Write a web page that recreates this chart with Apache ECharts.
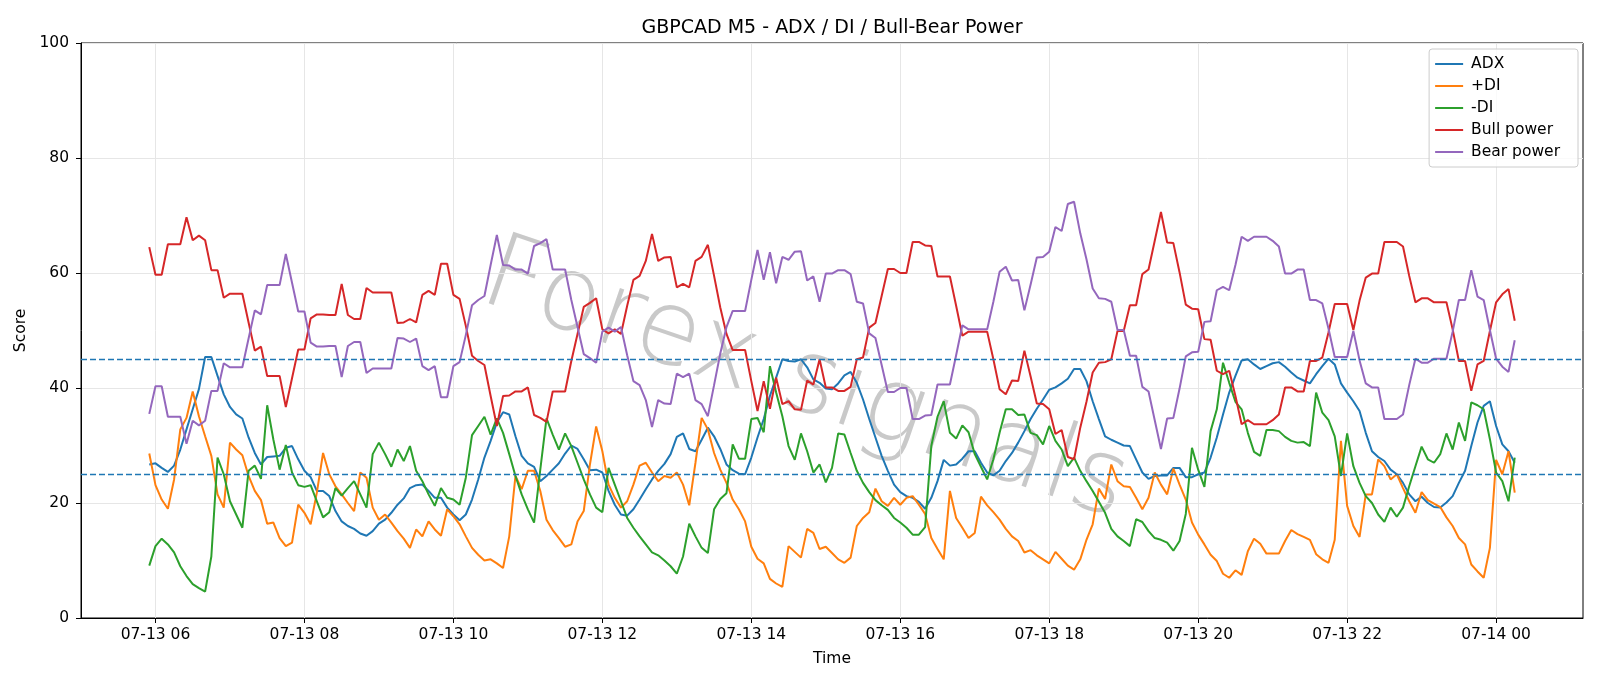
<!DOCTYPE html>
<html>
<head>
<meta charset="utf-8">
<title>GBPCAD M5 - ADX / DI / Bull-Bear Power</title>
<script src="https://cdn.jsdelivr.net/npm/echarts@6/dist/echarts.min.js"></script>
<style>
  html, body { margin: 0; padding: 0; background: #fff; }
  #chart { width: 1600px; height: 686px; }
</style>
</head>
<body>
<div id="chart"></div>
<script>
(function () {
  'use strict';

  // M5 bars, first bar 07-13 05:55 (UTC), one value every 5 minutes
  const firstBar = Date.UTC(2025, 6, 13, 5, 55);
  const barMs = 5 * 60 * 1000;

  const adx = [
    26.7, 26.9, 26.1, 25.4, 26.5, 29.3, 32.8, 36.3, 39.8, 45.4, 45.4, 42.1, 38.9, 36.7, 35.4, 34.7, 31.4, 28.7, 26.7, 28.0,
    28.1, 28.2, 29.6, 29.9, 27.6, 25.6, 24.5, 22.1, 22.1, 21.2, 18.6, 16.8, 16.0, 15.5, 14.7, 14.3, 15.1, 16.4, 17.1, 18.3,
    19.7, 20.8, 22.6, 23.1, 23.2, 22.1, 20.9, 20.9, 19.2, 18.0, 17.0, 18.0, 20.6, 24.1, 27.9, 30.8, 34.0, 35.8, 35.4, 31.6,
    28.2, 26.9, 26.3, 23.8, 24.7, 25.8, 26.9, 28.6, 30.0, 29.4, 27.6, 25.7, 25.8, 25.3, 22.1, 19.7, 18.0, 17.8, 18.9, 20.6,
    22.4, 24.1, 25.6, 26.8, 28.5, 31.5, 32.1, 29.4, 29.0, 31.0, 33.1, 31.6, 29.4, 26.7, 25.7, 25.1, 25.0, 27.9, 31.4, 34.6,
    38.6, 41.8, 45.0, 44.7, 44.6, 45.0, 43.6, 41.5, 40.9, 39.9, 39.8, 40.8, 42.2, 42.8, 40.9, 38.0, 34.6, 31.4, 28.2, 25.6,
    23.2, 21.9, 21.2, 20.9, 20.2, 19.0, 20.9, 23.8, 27.5, 26.5, 26.7, 27.7, 29.0, 29.0, 27.0, 25.3, 24.8, 25.6, 27.3, 28.7,
    30.5, 32.5, 34.6, 36.4, 38.0, 39.7, 40.1, 40.8, 41.6, 43.3, 43.3, 41.2, 37.7, 34.6, 31.6, 31.0, 30.5, 30.0, 29.9, 27.6,
    25.3, 24.2, 24.7, 24.8, 24.8, 26.1, 26.1, 24.5, 24.5, 25.0, 25.3, 27.9, 31.4, 35.4, 39.2, 42.1, 44.8, 45.0, 44.1, 43.3,
    43.8, 44.3, 44.5, 43.7, 42.7, 41.8, 41.3, 40.8, 42.4, 43.8, 45.1, 44.1, 40.8, 39.2, 37.7, 36.0, 32.2, 29.0, 28.0, 27.3,
    25.8, 25.0, 23.5, 21.5, 20.3, 21.1, 20.0, 19.3, 19.2, 20.1, 21.2, 23.5, 25.6, 29.9, 34.0, 36.9, 37.7, 33.4, 30.2, 29.0,
    27.0
  ];

  const plusDi = [
    28.6, 23.1, 20.6, 19.0, 24.1, 32.8, 34.8, 39.4, 35.1, 31.6, 28.2, 21.5, 19.2, 30.5, 29.3, 28.3, 24.7, 22.1, 20.5, 16.4,
    16.6, 13.9, 12.5, 13.1, 19.7, 18.3, 16.3, 21.8, 28.7, 25.0, 22.9, 21.5, 20.0, 18.6, 25.3, 24.4, 19.2, 17.1, 18.0, 16.6,
    15.1, 13.8, 12.2, 15.4, 14.2, 16.8, 15.4, 14.3, 18.9, 17.7, 16.3, 14.2, 12.2, 11.0, 10.0, 10.2, 9.5, 8.7, 14.2, 24.7,
    22.4, 25.6, 25.6, 22.1, 17.1, 15.3, 13.9, 12.4, 12.8, 16.8, 18.6, 26.7, 33.3, 29.0, 23.2, 20.9, 19.2, 20.3, 23.2, 26.5,
    27.0, 25.3, 23.8, 24.7, 24.4, 25.3, 23.2, 19.6, 27.0, 34.8, 32.8, 28.7, 25.8, 23.5, 20.6, 18.9, 16.8, 12.4, 10.3, 9.5,
    6.8, 6.0, 5.4, 12.5, 11.5, 10.5, 15.5, 14.8, 12.0, 12.4, 11.3, 10.2, 9.6, 10.5, 16.0, 17.4, 18.4, 22.5, 20.3, 19.5,
    20.9, 19.7, 20.9, 21.2, 19.7, 18.1, 13.9, 12.0, 10.2, 22.1, 17.4, 15.7, 13.9, 14.8, 21.1, 19.6, 18.4, 17.1, 15.5, 14.2,
    13.4, 11.4, 11.8, 10.9, 10.2, 9.5, 11.5, 10.3, 9.1, 8.4, 10.2, 13.6, 16.3, 22.5, 20.7, 26.7, 23.8, 22.9, 22.8, 20.9,
    18.9, 20.9, 25.3, 23.2, 21.5, 26.0, 23.2, 20.6, 16.6, 14.5, 12.8, 11.0, 9.9, 7.7, 7.0, 8.3, 7.5, 11.6, 13.8, 12.9,
    11.2, 11.2, 11.2, 13.4, 15.3, 14.6, 14.1, 13.6, 11.1, 10.2, 9.6, 13.6, 30.8, 19.5, 16.0, 14.1, 21.5, 21.5, 27.6, 26.4,
    24.1, 25.0, 22.6, 20.3, 18.3, 21.9, 20.5, 19.9, 19.3, 17.5, 16.0, 13.9, 12.8, 9.3, 8.1, 7.0, 12.2, 27.5, 25.0, 29.0,
    21.8
  ];

  const minusDi = [
    9.1, 12.5, 13.8, 12.8, 11.4, 9.0, 7.3, 5.9, 5.2, 4.6, 10.7, 27.9, 25.0, 20.3, 18.0, 15.7, 25.6, 26.5, 24.2, 37.0,
    31.0, 25.8, 30.1, 25.3, 23.1, 22.8, 23.1, 20.3, 17.5, 18.4, 22.6, 21.3, 22.6, 23.8, 21.5, 19.2, 28.5, 30.5, 28.5, 26.3,
    29.3, 27.3, 29.9, 25.6, 23.8, 21.5, 19.5, 22.6, 20.9, 20.6, 19.7, 24.4, 31.8, 33.4, 35.0, 31.9, 34.7, 32.2, 28.5, 24.7,
    21.5, 18.9, 16.6, 25.8, 34.7, 31.9, 29.3, 32.1, 29.9, 27.0, 24.1, 21.5, 19.2, 18.4, 26.1, 23.2, 20.3, 17.4, 15.7, 14.2,
    12.8, 11.4, 10.9, 10.0, 9.0, 7.7, 10.7, 16.4, 14.2, 12.2, 11.3, 18.9, 20.7, 21.7, 30.2, 27.7, 27.7, 34.6, 34.8, 32.3,
    43.8, 39.2, 35.1, 29.9, 27.5, 32.1, 29.0, 25.3, 26.7, 23.6, 26.1, 32.1, 31.9, 28.7, 25.6, 23.5, 21.9, 20.5, 19.6, 18.8,
    17.4, 16.6, 15.7, 14.5, 14.5, 15.8, 29.9, 35.0, 37.7, 32.2, 31.2, 33.5, 32.3, 28.5, 26.3, 24.1, 27.6, 32.2, 36.3, 36.3,
    35.3, 35.4, 32.2, 31.8, 30.2, 33.4, 30.8, 29.3, 26.4, 27.9, 25.6, 23.8, 22.1, 20.2, 18.3, 15.5, 14.2, 13.4, 12.5, 17.2,
    16.7, 15.1, 13.9, 13.6, 13.1, 11.7, 13.4, 18.1, 29.6, 25.8, 22.8, 32.5, 36.3, 44.4, 40.9, 37.6, 36.3, 32.2, 28.9, 28.2,
    32.7, 32.7, 32.5, 31.5, 30.8, 30.5, 30.6, 29.9, 39.2, 35.7, 34.4, 31.6, 24.7, 32.1, 26.4, 23.5, 21.2, 20.0, 18.0, 16.7,
    19.2, 17.6, 19.2, 22.9, 26.4, 29.8, 27.6, 27.0, 28.5, 32.1, 29.3, 34.0, 30.8, 37.5, 37.0, 36.3, 31.1, 25.3, 23.8, 20.3,
    27.9
  ];

  const bullPower = [
    64.5, 59.7, 59.7, 65.0, 65.0, 65.0, 69.7, 65.7, 66.5, 65.7, 60.5, 60.5, 55.7, 56.4, 56.4, 56.4, 51.4, 46.5, 47.2, 42.1,
    42.1, 42.1, 36.7, 41.7, 46.7, 46.7, 52.1, 52.8, 52.8, 52.7, 52.7, 58.1, 52.7, 52.0, 52.0, 57.4, 56.6, 56.6, 56.6, 56.6,
    51.3, 51.4, 52.0, 51.4, 56.2, 56.9, 56.2, 61.6, 61.6, 56.2, 55.5, 50.8, 45.6, 44.7, 44.0, 38.6, 33.4, 38.6, 38.7, 39.4,
    39.4, 40.1, 35.3, 34.8, 34.1, 39.4, 39.4, 39.4, 44.7, 49.4, 54.1, 54.8, 55.6, 50.2, 49.5, 50.2, 49.4, 54.3, 58.8, 59.5,
    62.1, 66.8, 62.1, 62.7, 62.8, 57.5, 58.1, 57.5, 62.1, 62.8, 64.9, 59.5, 54.0, 49.4, 46.6, 46.6, 46.6, 41.2, 36.0, 41.2,
    36.4, 41.8, 37.2, 37.7, 36.3, 36.2, 41.3, 40.6, 45.0, 40.1, 40.1, 39.5, 39.5, 40.2, 45.0, 45.3, 50.5, 51.3, 56.0, 60.7,
    60.7, 60.0, 60.0, 65.4, 65.4, 64.8, 64.7, 59.4, 59.4, 59.4, 54.3, 49.1, 49.8, 49.8, 49.8, 49.8, 45.0, 39.8, 38.9, 41.3,
    41.2, 46.5, 42.0, 37.3, 37.2, 36.3, 32.0, 32.7, 28.0, 27.6, 33.1, 37.6, 42.7, 44.4, 44.5, 45.0, 49.9, 49.9, 54.4, 54.4,
    59.8, 60.6, 65.6, 70.6, 65.3, 65.2, 60.1, 54.5, 53.8, 53.7, 48.5, 48.4, 43.0, 42.4, 43.0, 38.6, 33.7, 34.4, 33.7, 33.7,
    33.7, 34.4, 35.4, 40.1, 40.1, 39.4, 39.4, 44.7, 44.7, 45.3, 49.7, 54.6, 54.6, 54.6, 50.1, 55.2, 59.2, 59.9, 59.9, 65.4,
    65.4, 65.4, 64.6, 59.5, 54.9, 55.6, 55.6, 54.9, 54.9, 54.9, 50.2, 44.7, 44.7, 39.5, 44.1, 44.7, 49.9, 54.9, 56.3, 57.2,
    51.7
  ];

  const bearPower = [
    35.5, 40.3, 40.3, 35.0, 35.0, 35.0, 30.3, 34.3, 33.5, 34.3, 39.5, 39.5, 44.3, 43.6, 43.6, 43.6, 48.6, 53.5, 52.8, 57.9,
    57.9, 57.9, 63.3, 58.3, 53.3, 53.3, 47.9, 47.2, 47.2, 47.3, 47.3, 41.9, 47.3, 48.0, 48.0, 42.6, 43.4, 43.4, 43.4, 43.4,
    48.7, 48.6, 48.0, 48.6, 43.8, 43.1, 43.8, 38.4, 38.4, 43.8, 44.5, 49.2, 54.4, 55.3, 56.0, 61.4, 66.6, 61.4, 61.3, 60.6,
    60.6, 59.9, 64.7, 65.2, 65.9, 60.6, 60.6, 60.6, 55.3, 50.6, 45.9, 45.2, 44.4, 49.8, 50.5, 49.8, 50.6, 45.7, 41.2, 40.5,
    37.9, 33.2, 37.9, 37.3, 37.2, 42.5, 41.9, 42.5, 37.9, 37.2, 35.1, 40.5, 46.0, 50.6, 53.4, 53.4, 53.4, 58.8, 64.0, 58.8,
    63.6, 58.2, 62.8, 62.3, 63.7, 63.8, 58.7, 59.4, 55.0, 59.9, 59.9, 60.5, 60.5, 59.8, 55.0, 54.7, 49.5, 48.7, 44.0, 39.3,
    39.3, 40.0, 40.0, 34.6, 34.6, 35.2, 35.3, 40.6, 40.6, 40.6, 45.7, 50.9, 50.2, 50.2, 50.2, 50.2, 55.0, 60.2, 61.1, 58.7,
    58.8, 53.5, 58.0, 62.7, 62.8, 63.7, 68.0, 67.3, 72.0, 72.4, 66.9, 62.4, 57.3, 55.6, 55.5, 55.0, 50.1, 50.1, 45.6, 45.6,
    40.2, 39.4, 34.4, 29.4, 34.7, 34.8, 39.9, 45.5, 46.2, 46.3, 51.5, 51.6, 57.0, 57.6, 57.0, 61.4, 66.3, 65.6, 66.3, 66.3,
    66.3, 65.6, 64.6, 59.9, 59.9, 60.6, 60.6, 55.3, 55.3, 54.7, 50.3, 45.4, 45.4, 45.4, 49.9, 44.8, 40.8, 40.1, 40.1, 34.6,
    34.6, 34.6, 35.4, 40.5, 45.1, 44.4, 44.4, 45.1, 45.1, 45.1, 49.8, 55.3, 55.3, 60.5, 55.9, 55.3, 50.1, 45.1, 43.7, 42.8,
    48.3
  ];

  const thresholds = [25, 45];
  const tickLabels = ['07-13 06', '07-13 08', '07-13 10', '07-13 12', '07-13 14',
    '07-13 16', '07-13 18', '07-13 20', '07-13 22', '07-14 00'];
  const firstTick = Date.UTC(2025, 6, 13, 6, 0);
  const tickStep = 2 * 3600 * 1000;
  const tickTimes = tickLabels.map(function (_, i) { return firstTick + i * tickStep; });

  const xMin = Date.UTC(2025, 6, 13, 5, 0);
  const xMax = Date.UTC(2025, 6, 14, 1, 10);

  function pairs(values) {
    return values.map(function (v, i) { return [firstBar + i * barMs, v]; });
  }

  const font = 'DejaVu Sans';
  const black = '#000';
  const labelSize = 15.5;
  const gridLine = { show: true, lineStyle: { color: '#e6e6e6', width: 1 } };

  const chart = echarts.init(document.getElementById('chart'), null, { renderer: 'canvas' });

  const lineSeries = function (name, color, values, extra) {
    return Object.assign({
      name: name,
      type: 'line',
      data: pairs(values),
      showSymbol: false,
      symbol: 'none',
      lineStyle: { color: color, width: 2 },
      itemStyle: { color: color },
      animation: false
    }, extra || {});
  };

  chart.setOption({
    animation: false,
    backgroundColor: '#fff',
    textStyle: { fontFamily: font },
    title: {
      text: 'GBPCAD M5 - ADX / DI / Bull-Bear Power',
      left: 827,
      textAlign: 'center',
      top: 14,
      textStyle: { fontFamily: font, fontSize: 19, fontWeight: 'normal', color: black }
    },
    grid: { left: 81, right: 17, top: 43, bottom: 68, show: true, borderColor: black, borderWidth: 1 },
    legend: {
      orient: 'vertical',
      right: 22,
      top: 49,
      icon: 'rect',
      itemWidth: 28,
      itemHeight: 2,
      itemGap: 6,
      padding: [7, 18, 7, 6],
      backgroundColor: 'rgba(255,255,255,0.8)',
      borderColor: '#cccccc',
      borderWidth: 1,
      borderRadius: 3,
      textStyle: { fontFamily: font, fontSize: labelSize, color: black, lineHeight: 16, padding: [0, 0, 0, 3] },
      data: ['ADX', '+DI', '-DI', 'Bull power', 'Bear power']
    },
    xAxis: {
      type: 'value',
      min: xMin,
      max: xMax,
      name: 'Time',
      nameLocation: 'middle',
      nameGap: 33,
      nameTextStyle: { fontFamily: font, fontSize: labelSize, color: black },
      axisLine: { show: true, lineStyle: { color: black, width: 1 } },
      axisTick: { show: true, customValues: tickTimes, length: 5, lineStyle: { color: black } },
      axisLabel: {
        customValues: tickTimes,
        margin: 9,
        fontFamily: font,
        fontSize: labelSize,
        color: black,
        formatter: function (v) {
          const k = tickTimes.indexOf(v);
          return k >= 0 ? tickLabels[k] : '';
        }
      },
      splitLine: gridLine
    },
    yAxis: {
      type: 'value',
      min: 0,
      max: 100,
      interval: 20,
      name: 'Score',
      nameLocation: 'middle',
      nameGap: 41,
      nameTextStyle: { fontFamily: font, fontSize: labelSize, color: black },
      axisLine: { show: true, lineStyle: { color: black, width: 1 } },
      axisTick: { show: true, length: 5, lineStyle: { color: black } },
      axisLabel: { margin: 12, fontFamily: font, fontSize: labelSize, color: black },
      splitLine: gridLine
    },
    graphic: [{
      type: 'text',
      x: 805,
      y: 383,
      rotation: -0.33,
      silent: true,
      z: 0,
      style: {
        text: 'Forex signals',
        font: '200 104px "DejaVu Sans ExtraLight", "DejaVu Sans"',
        fill: 'rgba(120,120,120,0.4)',
        textShadowColor: 'rgba(120,120,120,0.2)',
        textShadowOffsetX: 3,
        textShadowOffsetY: 3,
        textShadowBlur: 0,
        align: 'center',
        verticalAlign: 'middle'
      }
    }],
    series: [
      lineSeries('ADX', '#1f77b4', adx, {
        markLine: {
          silent: true,
          symbol: 'none',
          label: { show: false },
          lineStyle: { color: '#1f77b4', type: [6, 3], width: 1.3 },
          data: thresholds.map(function (t) { return { yAxis: t }; })
        }
      }),
      lineSeries('+DI', '#ff7f0e', plusDi),
      lineSeries('-DI', '#2ca02c', minusDi),
      lineSeries('Bull power', '#d62728', bullPower),
      lineSeries('Bear power', '#9467bd', bearPower)
    ]
  });
})();
</script>
</body>
</html>
